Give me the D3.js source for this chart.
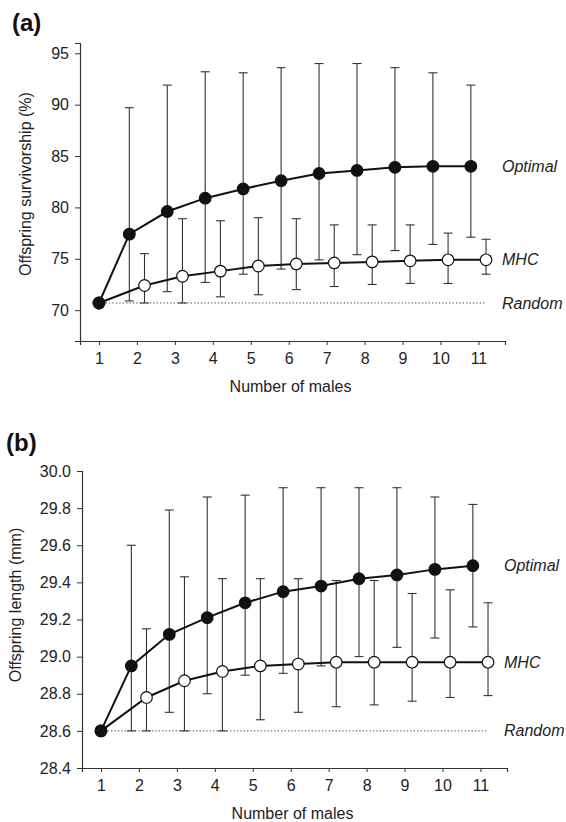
<!DOCTYPE html>
<html>
<head>
<meta charset="utf-8">
<script src="https://cdn.jsdelivr.net/npm/d3@7"></script>
<style>
    body { margin: 0; background: #fff; }
    svg { display: block; font-family: "Liberation Sans", Arial, sans-serif; }
</style>
</head>
<body>
<div id="chart"></div>
<script>
"use strict";

var males = [1, 2, 3, 4, 5, 6, 7, 8, 9, 10, 11];

// panel (a) offspring survivorship (%)
var survOptimal = [70.7, 77.4, 79.6, 80.9, 81.8, 82.6, 83.3, 83.6, 83.9, 84.0, 84.0];
var survOptimalHi = [70.7, 89.7, 91.9, 93.2, 93.1, 93.6, 94.0, 94.0, 93.6, 93.1, 91.9];
var survOptimalLo = [70.7, 70.9, 71.8, 72.7, 73.5, 74.0, 74.9, 75.4, 75.8, 76.4, 77.1];
var survMHC = [70.7, 72.4, 73.3, 73.8, 74.3, 74.5, 74.6, 74.7, 74.8, 74.9, 74.9];
var survMHCHi = [70.7, 75.5, 78.9, 78.7, 79.0, 78.9, 78.3, 78.3, 78.3, 77.5, 76.9];
var survMHCLo = [70.7, 70.7, 70.7, 71.3, 71.5, 72.0, 72.3, 72.5, 72.6, 72.6, 73.5];
var survRandom = 70.7;
var survTicks = [70, 75, 80, 85, 90, 95];

// panel (b) offspring length (mm)
var lenOptimal = [28.6, 28.95, 29.12, 29.21, 29.29, 29.35, 29.38, 29.42, 29.44, 29.47, 29.49];
var lenOptimalHi = [28.6, 29.6, 29.79, 29.86, 29.87, 29.91, 29.91, 29.91, 29.91, 29.86, 29.82];
var lenOptimalLo = [28.6, 28.6, 28.7, 28.8, 28.9, 28.91, 28.95, 29.0, 29.05, 29.1, 29.16];
var lenMHC = [28.6, 28.78, 28.87, 28.92, 28.95, 28.96, 28.97, 28.97, 28.97, 28.97, 28.97];
var lenMHCHi = [28.6, 29.15, 29.43, 29.42, 29.42, 29.42, 29.41, 29.41, 29.34, 29.36, 29.29];
var lenMHCLo = [28.6, 28.6, 28.6, 28.6, 28.66, 28.7, 28.73, 28.74, 28.76, 28.78, 28.79];
var lenRandom = 28.6;
var lenTicks = [28.4, 28.6, 28.8, 29.0, 29.2, 29.4, 29.6, 29.8, 30.0];

var svg = d3.select("#chart").append("svg").attr("width", 566).attr("height", 822);

function seriesRows(mean, hi, lo, offset) {
    return males.map(function (m, i) {
        return { x: m === 1 ? m : m + offset, y: mean[i], hi: hi[i], lo: lo[i] };
    });
}

function drawPanel(conf) {
    var g = svg.append("g");
    var x = d3.scaleLinear().domain([0.5, 11.7]).range([conf.left, conf.right]);
    var y = d3.scaleLinear().domain(conf.yDomain).range([conf.bottom, conf.top]);

    var xAxis = d3.axisBottom(x).tickValues(males).tickSize(4).tickPadding(8).tickFormat(d3.format("d"));
    var yAxis = d3.axisLeft(y).tickValues(conf.ticks).tickSize(5).tickPadding(6).tickFormat(d3.format(conf.fmt));

    var gx = g.append("g").attr("transform", "translate(0," + conf.bottom + ")").call(xAxis);
    var gy = g.append("g").attr("transform", "translate(" + conf.left + ",0)").call(yAxis);
    [gx, gy].forEach(function (a) {
        a.select(".domain").attr("stroke", "#333").attr("stroke-width", 1.2);
        a.selectAll(".tick line").attr("stroke", "#333");
        a.selectAll("text").attr("font-size", 16).attr("fill", "#222").attr("font-family", "Liberation Sans, Arial, sans-serif");
    });

    // random baseline
    g.append("line")
        .attr("x1", x(1)).attr("x2", x(11.2))
        .attr("y1", y(conf.random)).attr("y2", y(conf.random))
        .attr("stroke", "#333").attr("stroke-width", 1).attr("stroke-dasharray", "1.2,2.2");

    var series = [
        { rows: seriesRows(conf.opt, conf.optHi, conf.optLo, -0.2), fill: "#111" },
        { rows: seriesRows(conf.mhc, conf.mhcHi, conf.mhcLo, 0.2), fill: "#fff" }
    ];

    series.forEach(function (s) {
        var bars = g.append("g").selectAll("g").data(s.rows.slice(1)).enter().append("g")
            .attr("stroke", "#333").attr("stroke-width", 1.1);
        bars.append("line")
            .attr("x1", function (d) { return x(d.x); }).attr("x2", function (d) { return x(d.x); })
            .attr("y1", function (d) { return y(d.hi); }).attr("y2", function (d) { return y(d.lo); });
        bars.append("line")
            .attr("x1", function (d) { return x(d.x) - 4.5; }).attr("x2", function (d) { return x(d.x) + 4.5; })
            .attr("y1", function (d) { return y(d.hi); }).attr("y2", function (d) { return y(d.hi); });
        bars.append("line")
            .attr("x1", function (d) { return x(d.x) - 4.5; }).attr("x2", function (d) { return x(d.x) + 4.5; })
            .attr("y1", function (d) { return y(d.lo); }).attr("y2", function (d) { return y(d.lo); });
    });

    series.forEach(function (s) {
        var line = d3.line().x(function (d) { return x(d.x); }).y(function (d) { return y(d.y); });
        g.append("path").datum(s.rows).attr("d", line)
            .attr("fill", "none").attr("stroke", "#111").attr("stroke-width", 2);
    });

    series.slice().reverse().forEach(function (s) {
        g.append("g").selectAll("circle").data(s.rows).enter().append("circle")
            .attr("cx", function (d) { return x(d.x); })
            .attr("cy", function (d) { return y(d.y); })
            .attr("r", 5.8)
            .attr("fill", s.fill).attr("stroke", "#111").attr("stroke-width", 1.2);
    });

    var labels = [
        { t: "Optimal", v: conf.opt[10] },
        { t: "MHC", v: conf.mhc[10] },
        { t: "Random", v: conf.random }
    ];
    g.selectAll("text.lab").data(labels).enter().append("text")
        .attr("class", "lab")
        .attr("x", conf.right - 3)
        .attr("y", function (d) { return y(d.v); })
        .attr("dy", "0.35em")
        .attr("font-size", 16).attr("font-style", "italic").attr("fill", "#222")
        .text(function (d) { return d.t; });

    g.append("text")
        .attr("x", (conf.left + conf.right) / 2 - 2)
        .attr("y", conf.bottom + 51)
        .attr("text-anchor", "middle").attr("font-size", 16).attr("fill", "#222")
        .text("Number of males");

    g.append("text")
        .attr("transform", "translate(" + conf.titleX + "," + conf.titleY + ") rotate(-90)")
        .attr("text-anchor", "middle").attr("font-size", 16).attr("fill", "#222")
        .text(conf.title);

    g.append("text")
        .attr("x", conf.panelX).attr("y", conf.panelY)
        .attr("font-size", 24).attr("font-weight", "bold").attr("fill", "#111")
        .text(conf.panel);
}

drawPanel({
    left: 80, right: 505, top: 43, bottom: 341,
    yDomain: [67, 96], ticks: survTicks, fmt: "d",
    opt: survOptimal, optHi: survOptimalHi, optLo: survOptimalLo,
    mhc: survMHC, mhcHi: survMHCHi, mhcLo: survMHCLo,
    random: survRandom,
    title: "Offspring survivorship (%)", titleX: 31, titleY: 184,
    panel: "(a)", panelX: 12, panelY: 31
});

drawPanel({
    left: 82, right: 507, top: 471, bottom: 768,
    yDomain: [28.4, 30.0], ticks: lenTicks, fmt: ".1f",
    opt: lenOptimal, optHi: lenOptimalHi, optLo: lenOptimalLo,
    mhc: lenMHC, mhcHi: lenMHCHi, mhcLo: lenMHCLo,
    random: lenRandom,
    title: "Offspring length (mm)", titleX: 21, titleY: 605,
    panel: "(b)", panelX: 6, panelY: 451
});
</script>
</body>
</html>
